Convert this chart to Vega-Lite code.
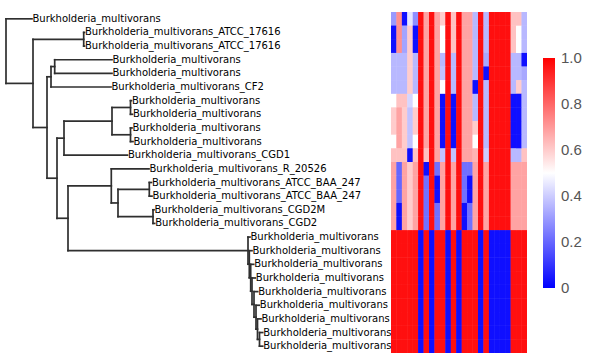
{
"$schema": "https://vega.github.io/schema/vega-lite/v6.json",
"padding": {"left": 4, "top": 12, "right": 0, "bottom": 0},
"background": "white",
"bounds": "flush",
"spacing": 0,
"config": {"view": {"stroke": null}},
"datasets": {
"seg": [
{"x":0,"x2":0,"y":1,"y2":5.734},{"x":0,"x2":26,"y":1,"y2":1},{"x":0,"x2":27,"y":5.734,"y2":5.734},
{"x":27,"x2":27,"y":2.5,"y2":8.968},{"x":27,"x2":77.7,"y":2.5,"y2":2.5},{"x":77.7,"x2":77.7,"y":2,"y2":3},
{"x":77.7,"x2":78.5,"y":2,"y2":2},{"x":77.7,"x2":78.5,"y":3,"y2":3},{"x":27,"x2":41,"y":8.968,"y2":8.968},
{"x":41,"x2":41,"y":5.25,"y2":12.686},{"x":41,"x2":45,"y":5.25,"y2":5.25},{"x":45,"x2":45,"y":4.5,"y2":6},
{"x":45,"x2":48.7,"y":4.5,"y2":4.5},{"x":48.7,"x2":48.7,"y":4,"y2":5},{"x":48.7,"x2":106,"y":4,"y2":4},
{"x":48.7,"x2":106,"y":5,"y2":5},{"x":45,"x2":105,"y":6,"y2":6},{"x":41,"x2":51,"y":12.686,"y2":12.686},
{"x":51,"x2":51,"y":9.75,"y2":15.623},{"x":51,"x2":58,"y":9.75,"y2":9.75},{"x":58,"x2":58,"y":8.5,"y2":11},
{"x":58,"x2":106,"y":8.5,"y2":8.5},{"x":106,"x2":106,"y":7.5,"y2":9.5},{"x":106,"x2":124.5,"y":7.5,"y2":7.5},
{"x":124.5,"x2":124.5,"y":7,"y2":8},{"x":124.5,"x2":125.5,"y":7,"y2":7},{"x":124.5,"x2":126.5,"y":8,"y2":8},
{"x":106,"x2":124.5,"y":9.5,"y2":9.5},{"x":124.5,"x2":124.5,"y":9,"y2":10},{"x":124.5,"x2":126,"y":9,"y2":9},
{"x":124.5,"x2":127,"y":10,"y2":10},{"x":58,"x2":121.5,"y":11,"y2":11},{"x":51,"x2":62,"y":15.623,"y2":15.623},
{"x":62,"x2":62,"y":13.25,"y2":17.996},{"x":62,"x2":105.3,"y":13.25,"y2":13.25},{"x":105.3,"x2":105.3,"y":12,"y2":14.5},
{"x":105.3,"x2":143,"y":12,"y2":12},{"x":105.3,"x2":112,"y":14.5,"y2":14.5},{"x":112,"x2":112,"y":13.5,"y2":15.5},
{"x":112,"x2":143.3,"y":13.5,"y2":13.5},{"x":143.3,"x2":143.3,"y":13,"y2":14},{"x":143.3,"x2":145.5,"y":13,"y2":13},
{"x":143.3,"x2":146,"y":14,"y2":14},{"x":112,"x2":147,"y":15.5,"y2":15.5},{"x":147,"x2":147,"y":15,"y2":16},
{"x":147,"x2":148,"y":15,"y2":15},{"x":147,"x2":148.7,"y":16,"y2":16},{"x":62,"x2":242,"y":17.996,"y2":17.996},
{"x":242,"x2":242,"y":17,"y2":18.992},{"x":242,"x2":244,"y":17,"y2":17},{"x":242,"x2":243.3,"y":18.992,"y2":18.992},
{"x":243.3,"x2":243.3,"y":18,"y2":19.984},{"x":243.3,"x2":246,"y":18,"y2":18},{"x":243.3,"x2":244.7,"y":19.984,"y2":19.984},
{"x":244.7,"x2":244.7,"y":19,"y2":20.969},{"x":244.7,"x2":247.7,"y":19,"y2":19},{"x":244.7,"x2":246,"y":20.969,"y2":20.969},
{"x":246,"x2":246,"y":20,"y2":21.938},{"x":246,"x2":249.3,"y":20,"y2":20},{"x":246,"x2":248,"y":21.938,"y2":21.938},
{"x":248,"x2":248,"y":21,"y2":22.875},{"x":248,"x2":251.7,"y":21,"y2":21},{"x":248,"x2":250,"y":22.875,"y2":22.875},
{"x":250,"x2":250,"y":22,"y2":23.75},{"x":250,"x2":253.3,"y":22,"y2":22},{"x":250,"x2":251.5,"y":23.75,"y2":23.75},
{"x":251.5,"x2":251.5,"y":23,"y2":24.5},{"x":251.5,"x2":255,"y":23,"y2":23},{"x":251.5,"x2":253.5,"y":24.5,"y2":24.5},
{"x":253.5,"x2":253.5,"y":24,"y2":25},{"x":253.5,"x2":256.7,"y":24,"y2":24},{"x":253.5,"x2":256.7,"y":25,"y2":25}
],
"tips": [
{"y":1,"x":26,"name":"Burkholderia_multivorans"},
{"y":2,"x":78.5,"name":"Burkholderia_multivorans_ATCC_17616"},
{"y":3,"x":78.5,"name":"Burkholderia_multivorans_ATCC_17616"},
{"y":4,"x":106,"name":"Burkholderia_multivorans"},
{"y":5,"x":106,"name":"Burkholderia_multivorans"},
{"y":6,"x":105,"name":"Burkholderia_multivorans_CF2"},
{"y":7,"x":125.5,"name":"Burkholderia_multivorans"},
{"y":8,"x":126.5,"name":"Burkholderia_multivorans"},
{"y":9,"x":126,"name":"Burkholderia_multivorans"},
{"y":10,"x":127,"name":"Burkholderia_multivorans"},
{"y":11,"x":121.5,"name":"Burkholderia_multivorans_CGD1"},
{"y":12,"x":143,"name":"Burkholderia_multivorans_R_20526"},
{"y":13,"x":145.5,"name":"Burkholderia_multivorans_ATCC_BAA_247"},
{"y":14,"x":146,"name":"Burkholderia_multivorans_ATCC_BAA_247"},
{"y":15,"x":148,"name":"Burkholderia_multivorans_CGD2M"},
{"y":16,"x":148.7,"name":"Burkholderia_multivorans_CGD2"},
{"y":17,"x":244,"name":"Burkholderia_multivorans"},
{"y":18,"x":246,"name":"Burkholderia_multivorans"},
{"y":19,"x":247.7,"name":"Burkholderia_multivorans"},
{"y":20,"x":249.3,"name":"Burkholderia_multivorans"},
{"y":21,"x":251.7,"name":"Burkholderia_multivorans"},
{"y":22,"x":253.3,"name":"Burkholderia_multivorans"},
{"y":23,"x":255,"name":"Burkholderia_multivorans"},
{"y":24,"x":256.7,"name":"Burkholderia_multivorans"},
{"y":25,"x":256.7,"name":"Burkholderia_multivorans"}
],
"cells": [
{"r":1,"c":1,"v":0.3},{"r":1,"c":2,"v":0.72},{"r":1,"c":3,"v":0.03},{"r":1,"c":4,"v":0.45},{"r":1,"c":5,"v":0.28},{"r":1,"c":6,"v":0.97},{"r":1,"c":7,"v":0.68},{"r":1,"c":8,"v":0.97},{"r":1,"c":9,"v":0.68},{"r":1,"c":10,"v":0.6},{"r":1,"c":11,"v":0.97},{"r":1,"c":12,"v":0.62},{"r":1,"c":13,"v":0.97},{"r":1,"c":14,"v":0.68},{"r":1,"c":15,"v":0.68},{"r":1,"c":16,"v":0.36},{"r":1,"c":17,"v":0.97},{"r":1,"c":18,"v":0.36},{"r":1,"c":19,"v":0.97},{"r":1,"c":20,"v":0.97},{"r":1,"c":21,"v":0.97},{"r":1,"c":22,"v":0.97},{"r":1,"c":23,"v":0.62},{"r":1,"c":24,"v":0.62},{"r":1,"c":25,"v":0.36},
{"r":2,"c":1,"v":0.03},{"r":2,"c":2,"v":0.72},{"r":2,"c":3,"v":0.32},{"r":2,"c":4,"v":0.6},{"r":2,"c":5,"v":0.03},{"r":2,"c":6,"v":0.97},{"r":2,"c":7,"v":0.68},{"r":2,"c":8,"v":0.97},{"r":2,"c":9,"v":0.68},{"r":2,"c":10,"v":0.5},{"r":2,"c":11,"v":0.97},{"r":2,"c":12,"v":0.62},{"r":2,"c":13,"v":0.97},{"r":2,"c":14,"v":0.68},{"r":2,"c":15,"v":0.68},{"r":2,"c":16,"v":0.36},{"r":2,"c":17,"v":0.97},{"r":2,"c":18,"v":0.36},{"r":2,"c":19,"v":0.97},{"r":2,"c":20,"v":0.97},{"r":2,"c":21,"v":0.97},{"r":2,"c":22,"v":0.97},{"r":2,"c":23,"v":0.62},{"r":2,"c":24,"v":0.5},{"r":2,"c":25,"v":0.36},
{"r":3,"c":1,"v":0.03},{"r":3,"c":2,"v":0.72},{"r":3,"c":3,"v":0.32},{"r":3,"c":4,"v":0.6},{"r":3,"c":5,"v":0.03},{"r":3,"c":6,"v":0.97},{"r":3,"c":7,"v":0.68},{"r":3,"c":8,"v":0.97},{"r":3,"c":9,"v":0.68},{"r":3,"c":10,"v":0.5},{"r":3,"c":11,"v":0.97},{"r":3,"c":12,"v":0.62},{"r":3,"c":13,"v":0.97},{"r":3,"c":14,"v":0.68},{"r":3,"c":15,"v":0.68},{"r":3,"c":16,"v":0.36},{"r":3,"c":17,"v":0.97},{"r":3,"c":18,"v":0.36},{"r":3,"c":19,"v":0.97},{"r":3,"c":20,"v":0.97},{"r":3,"c":21,"v":0.97},{"r":3,"c":22,"v":0.97},{"r":3,"c":23,"v":0.62},{"r":3,"c":24,"v":0.5},{"r":3,"c":25,"v":0.36},
{"r":4,"c":1,"v":0.36},{"r":4,"c":2,"v":0.36},{"r":4,"c":3,"v":0.36},{"r":4,"c":4,"v":0.6},{"r":4,"c":5,"v":0.36},{"r":4,"c":6,"v":0.97},{"r":4,"c":7,"v":0.68},{"r":4,"c":8,"v":0.97},{"r":4,"c":9,"v":0.68},{"r":4,"c":10,"v":0.36},{"r":4,"c":11,"v":0.97},{"r":4,"c":12,"v":0.36},{"r":4,"c":13,"v":0.97},{"r":4,"c":14,"v":0.68},{"r":4,"c":15,"v":0.68},{"r":4,"c":16,"v":0.36},{"r":4,"c":17,"v":0.97},{"r":4,"c":18,"v":0.33},{"r":4,"c":19,"v":0.97},{"r":4,"c":20,"v":0.97},{"r":4,"c":21,"v":0.97},{"r":4,"c":22,"v":0.97},{"r":4,"c":23,"v":0.36},{"r":4,"c":24,"v":0.36},{"r":4,"c":25,"v":0.03},
{"r":5,"c":1,"v":0.36},{"r":5,"c":2,"v":0.36},{"r":5,"c":3,"v":0.36},{"r":5,"c":4,"v":0.6},{"r":5,"c":5,"v":0.36},{"r":5,"c":6,"v":0.97},{"r":5,"c":7,"v":0.68},{"r":5,"c":8,"v":0.97},{"r":5,"c":9,"v":0.68},{"r":5,"c":10,"v":0.38},{"r":5,"c":11,"v":0.97},{"r":5,"c":12,"v":0.36},{"r":5,"c":13,"v":0.97},{"r":5,"c":14,"v":0.68},{"r":5,"c":15,"v":0.68},{"r":5,"c":16,"v":0.36},{"r":5,"c":17,"v":0.97},{"r":5,"c":18,"v":0.03},{"r":5,"c":19,"v":0.97},{"r":5,"c":20,"v":0.97},{"r":5,"c":21,"v":0.97},{"r":5,"c":22,"v":0.97},{"r":5,"c":23,"v":0.36},{"r":5,"c":24,"v":0.36},{"r":5,"c":25,"v":0.33},
{"r":6,"c":1,"v":0.36},{"r":6,"c":2,"v":0.36},{"r":6,"c":3,"v":0.36},{"r":6,"c":4,"v":0.6},{"r":6,"c":5,"v":0.36},{"r":6,"c":6,"v":0.97},{"r":6,"c":7,"v":0.68},{"r":6,"c":8,"v":0.97},{"r":6,"c":9,"v":0.68},{"r":6,"c":10,"v":0.5},{"r":6,"c":11,"v":0.97},{"r":6,"c":12,"v":0.36},{"r":6,"c":13,"v":0.97},{"r":6,"c":14,"v":0.68},{"r":6,"c":15,"v":0.68},{"r":6,"c":16,"v":0.03},{"r":6,"c":17,"v":0.97},{"r":6,"c":18,"v":0.36},{"r":6,"c":19,"v":0.97},{"r":6,"c":20,"v":0.97},{"r":6,"c":21,"v":0.97},{"r":6,"c":22,"v":0.97},{"r":6,"c":23,"v":0.36},{"r":6,"c":24,"v":0.6},{"r":6,"c":25,"v":0.36},
{"r":7,"c":1,"v":0.5},{"r":7,"c":2,"v":0.62},{"r":7,"c":3,"v":0.62},{"r":7,"c":4,"v":0.42},{"r":7,"c":5,"v":0.5},{"r":7,"c":6,"v":0.97},{"r":7,"c":7,"v":0.68},{"r":7,"c":8,"v":0.97},{"r":7,"c":9,"v":0.68},{"r":7,"c":10,"v":0.03},{"r":7,"c":11,"v":0.97},{"r":7,"c":12,"v":0.03},{"r":7,"c":13,"v":0.97},{"r":7,"c":14,"v":0.68},{"r":7,"c":15,"v":0.68},{"r":7,"c":16,"v":0.36},{"r":7,"c":17,"v":0.97},{"r":7,"c":18,"v":0.36},{"r":7,"c":19,"v":0.97},{"r":7,"c":20,"v":0.97},{"r":7,"c":21,"v":0.97},{"r":7,"c":22,"v":0.97},{"r":7,"c":23,"v":0.03},{"r":7,"c":24,"v":0.03},{"r":7,"c":25,"v":0.36},
{"r":8,"c":1,"v":0.6},{"r":8,"c":2,"v":0.68},{"r":8,"c":3,"v":0.6},{"r":8,"c":4,"v":0.38},{"r":8,"c":5,"v":0.6},{"r":8,"c":6,"v":0.97},{"r":8,"c":7,"v":0.68},{"r":8,"c":8,"v":0.97},{"r":8,"c":9,"v":0.68},{"r":8,"c":10,"v":0.03},{"r":8,"c":11,"v":0.97},{"r":8,"c":12,"v":0.03},{"r":8,"c":13,"v":0.97},{"r":8,"c":14,"v":0.68},{"r":8,"c":15,"v":0.68},{"r":8,"c":16,"v":0.36},{"r":8,"c":17,"v":0.97},{"r":8,"c":18,"v":0.36},{"r":8,"c":19,"v":0.97},{"r":8,"c":20,"v":0.97},{"r":8,"c":21,"v":0.97},{"r":8,"c":22,"v":0.97},{"r":8,"c":23,"v":0.03},{"r":8,"c":24,"v":0.03},{"r":8,"c":25,"v":0.36},
{"r":9,"c":1,"v":0.6},{"r":9,"c":2,"v":0.68},{"r":9,"c":3,"v":0.6},{"r":9,"c":4,"v":0.38},{"r":9,"c":5,"v":0.6},{"r":9,"c":6,"v":0.97},{"r":9,"c":7,"v":0.68},{"r":9,"c":8,"v":0.97},{"r":9,"c":9,"v":0.68},{"r":9,"c":10,"v":0.03},{"r":9,"c":11,"v":0.97},{"r":9,"c":12,"v":0.03},{"r":9,"c":13,"v":0.97},{"r":9,"c":14,"v":0.68},{"r":9,"c":15,"v":0.68},{"r":9,"c":16,"v":0.6},{"r":9,"c":17,"v":0.97},{"r":9,"c":18,"v":0.36},{"r":9,"c":19,"v":0.97},{"r":9,"c":20,"v":0.97},{"r":9,"c":21,"v":0.97},{"r":9,"c":22,"v":0.97},{"r":9,"c":23,"v":0.03},{"r":9,"c":24,"v":0.03},{"r":9,"c":25,"v":0.36},
{"r":10,"c":1,"v":0.5},{"r":10,"c":2,"v":0.68},{"r":10,"c":3,"v":0.6},{"r":10,"c":4,"v":0.38},{"r":10,"c":5,"v":0.5},{"r":10,"c":6,"v":0.97},{"r":10,"c":7,"v":0.68},{"r":10,"c":8,"v":0.97},{"r":10,"c":9,"v":0.68},{"r":10,"c":10,"v":0.03},{"r":10,"c":11,"v":0.97},{"r":10,"c":12,"v":0.03},{"r":10,"c":13,"v":0.97},{"r":10,"c":14,"v":0.68},{"r":10,"c":15,"v":0.68},{"r":10,"c":16,"v":0.5},{"r":10,"c":17,"v":0.97},{"r":10,"c":18,"v":0.36},{"r":10,"c":19,"v":0.97},{"r":10,"c":20,"v":0.97},{"r":10,"c":21,"v":0.97},{"r":10,"c":22,"v":0.97},{"r":10,"c":23,"v":0.03},{"r":10,"c":24,"v":0.03},{"r":10,"c":25,"v":0.36},
{"r":11,"c":1,"v":0.62},{"r":11,"c":2,"v":0.62},{"r":11,"c":3,"v":0.62},{"r":11,"c":4,"v":0.03},{"r":11,"c":5,"v":0.62},{"r":11,"c":6,"v":0.97},{"r":11,"c":7,"v":0.62},{"r":11,"c":8,"v":0.97},{"r":11,"c":9,"v":0.68},{"r":11,"c":10,"v":0.38},{"r":11,"c":11,"v":0.97},{"r":11,"c":12,"v":0.38},{"r":11,"c":13,"v":0.97},{"r":11,"c":14,"v":0.68},{"r":11,"c":15,"v":0.68},{"r":11,"c":16,"v":0.65},{"r":11,"c":17,"v":0.97},{"r":11,"c":18,"v":0.4},{"r":11,"c":19,"v":0.97},{"r":11,"c":20,"v":0.97},{"r":11,"c":21,"v":0.97},{"r":11,"c":22,"v":0.97},{"r":11,"c":23,"v":0.36},{"r":11,"c":24,"v":0.36},{"r":11,"c":25,"v":0.62},
{"r":12,"c":1,"v":0.68},{"r":12,"c":2,"v":0.2},{"r":12,"c":3,"v":0.68},{"r":12,"c":4,"v":0.6},{"r":12,"c":5,"v":0.68},{"r":12,"c":6,"v":0.97},{"r":12,"c":7,"v":0.03},{"r":12,"c":8,"v":0.97},{"r":12,"c":9,"v":0.22},{"r":12,"c":10,"v":0.68},{"r":12,"c":11,"v":0.97},{"r":12,"c":12,"v":0.68},{"r":12,"c":13,"v":0.97},{"r":12,"c":14,"v":0.22},{"r":12,"c":15,"v":0.22},{"r":12,"c":16,"v":0.68},{"r":12,"c":17,"v":0.97},{"r":12,"c":18,"v":0.68},{"r":12,"c":19,"v":0.97},{"r":12,"c":20,"v":0.97},{"r":12,"c":21,"v":0.97},{"r":12,"c":22,"v":0.97},{"r":12,"c":23,"v":0.68},{"r":12,"c":24,"v":0.68},{"r":12,"c":25,"v":0.68},
{"r":13,"c":1,"v":0.68},{"r":13,"c":2,"v":0.2},{"r":13,"c":3,"v":0.68},{"r":13,"c":4,"v":0.6},{"r":13,"c":5,"v":0.68},{"r":13,"c":6,"v":0.97},{"r":13,"c":7,"v":0.22},{"r":13,"c":8,"v":0.97},{"r":13,"c":9,"v":0.03},{"r":13,"c":10,"v":0.68},{"r":13,"c":11,"v":0.97},{"r":13,"c":12,"v":0.68},{"r":13,"c":13,"v":0.97},{"r":13,"c":14,"v":0.22},{"r":13,"c":15,"v":0.03},{"r":13,"c":16,"v":0.68},{"r":13,"c":17,"v":0.97},{"r":13,"c":18,"v":0.68},{"r":13,"c":19,"v":0.97},{"r":13,"c":20,"v":0.97},{"r":13,"c":21,"v":0.97},{"r":13,"c":22,"v":0.97},{"r":13,"c":23,"v":0.68},{"r":13,"c":24,"v":0.68},{"r":13,"c":25,"v":0.68},
{"r":14,"c":1,"v":0.68},{"r":14,"c":2,"v":0.2},{"r":14,"c":3,"v":0.68},{"r":14,"c":4,"v":0.6},{"r":14,"c":5,"v":0.68},{"r":14,"c":6,"v":0.97},{"r":14,"c":7,"v":0.22},{"r":14,"c":8,"v":0.97},{"r":14,"c":9,"v":0.03},{"r":14,"c":10,"v":0.68},{"r":14,"c":11,"v":0.97},{"r":14,"c":12,"v":0.68},{"r":14,"c":13,"v":0.97},{"r":14,"c":14,"v":0.22},{"r":14,"c":15,"v":0.03},{"r":14,"c":16,"v":0.68},{"r":14,"c":17,"v":0.97},{"r":14,"c":18,"v":0.68},{"r":14,"c":19,"v":0.97},{"r":14,"c":20,"v":0.97},{"r":14,"c":21,"v":0.97},{"r":14,"c":22,"v":0.97},{"r":14,"c":23,"v":0.68},{"r":14,"c":24,"v":0.68},{"r":14,"c":25,"v":0.68},
{"r":15,"c":1,"v":0.68},{"r":15,"c":2,"v":0.03},{"r":15,"c":3,"v":0.68},{"r":15,"c":4,"v":0.6},{"r":15,"c":5,"v":0.68},{"r":15,"c":6,"v":0.97},{"r":15,"c":7,"v":0.22},{"r":15,"c":8,"v":0.97},{"r":15,"c":9,"v":0.22},{"r":15,"c":10,"v":0.68},{"r":15,"c":11,"v":0.97},{"r":15,"c":12,"v":0.68},{"r":15,"c":13,"v":0.97},{"r":15,"c":14,"v":0.03},{"r":15,"c":15,"v":0.22},{"r":15,"c":16,"v":0.68},{"r":15,"c":17,"v":0.97},{"r":15,"c":18,"v":0.68},{"r":15,"c":19,"v":0.97},{"r":15,"c":20,"v":0.97},{"r":15,"c":21,"v":0.97},{"r":15,"c":22,"v":0.97},{"r":15,"c":23,"v":0.68},{"r":15,"c":24,"v":0.68},{"r":15,"c":25,"v":0.68},
{"r":16,"c":1,"v":0.68},{"r":16,"c":2,"v":0.03},{"r":16,"c":3,"v":0.68},{"r":16,"c":4,"v":0.6},{"r":16,"c":5,"v":0.68},{"r":16,"c":6,"v":0.97},{"r":16,"c":7,"v":0.22},{"r":16,"c":8,"v":0.97},{"r":16,"c":9,"v":0.22},{"r":16,"c":10,"v":0.68},{"r":16,"c":11,"v":0.97},{"r":16,"c":12,"v":0.68},{"r":16,"c":13,"v":0.97},{"r":16,"c":14,"v":0.03},{"r":16,"c":15,"v":0.22},{"r":16,"c":16,"v":0.68},{"r":16,"c":17,"v":0.97},{"r":16,"c":18,"v":0.68},{"r":16,"c":19,"v":0.97},{"r":16,"c":20,"v":0.97},{"r":16,"c":21,"v":0.97},{"r":16,"c":22,"v":0.97},{"r":16,"c":23,"v":0.68},{"r":16,"c":24,"v":0.68},{"r":16,"c":25,"v":0.68},
{"r":17,"c":1,"v":0.97},{"r":17,"c":2,"v":0.97},{"r":17,"c":3,"v":0.97},{"r":17,"c":4,"v":0.97},{"r":17,"c":5,"v":0.97},{"r":17,"c":6,"v":0.03},{"r":17,"c":7,"v":0.97},{"r":17,"c":8,"v":0.03},{"r":17,"c":9,"v":0.97},{"r":17,"c":10,"v":0.97},{"r":17,"c":11,"v":0.03},{"r":17,"c":12,"v":0.97},{"r":17,"c":13,"v":0.03},{"r":17,"c":14,"v":0.97},{"r":17,"c":15,"v":0.97},{"r":17,"c":16,"v":0.97},{"r":17,"c":17,"v":0.03},{"r":17,"c":18,"v":0.97},{"r":17,"c":19,"v":0.03},{"r":17,"c":20,"v":0.03},{"r":17,"c":21,"v":0.03},{"r":17,"c":22,"v":0.03},{"r":17,"c":23,"v":0.97},{"r":17,"c":24,"v":0.97},{"r":17,"c":25,"v":0.97},
{"r":18,"c":1,"v":0.97},{"r":18,"c":2,"v":0.97},{"r":18,"c":3,"v":0.97},{"r":18,"c":4,"v":0.97},{"r":18,"c":5,"v":0.97},{"r":18,"c":6,"v":0.03},{"r":18,"c":7,"v":0.97},{"r":18,"c":8,"v":0.03},{"r":18,"c":9,"v":0.97},{"r":18,"c":10,"v":0.97},{"r":18,"c":11,"v":0.03},{"r":18,"c":12,"v":0.97},{"r":18,"c":13,"v":0.03},{"r":18,"c":14,"v":0.97},{"r":18,"c":15,"v":0.97},{"r":18,"c":16,"v":0.97},{"r":18,"c":17,"v":0.03},{"r":18,"c":18,"v":0.97},{"r":18,"c":19,"v":0.03},{"r":18,"c":20,"v":0.03},{"r":18,"c":21,"v":0.03},{"r":18,"c":22,"v":0.03},{"r":18,"c":23,"v":0.97},{"r":18,"c":24,"v":0.97},{"r":18,"c":25,"v":0.97},
{"r":19,"c":1,"v":0.97},{"r":19,"c":2,"v":0.97},{"r":19,"c":3,"v":0.97},{"r":19,"c":4,"v":0.97},{"r":19,"c":5,"v":0.97},{"r":19,"c":6,"v":0.03},{"r":19,"c":7,"v":0.97},{"r":19,"c":8,"v":0.03},{"r":19,"c":9,"v":0.97},{"r":19,"c":10,"v":0.97},{"r":19,"c":11,"v":0.03},{"r":19,"c":12,"v":0.97},{"r":19,"c":13,"v":0.03},{"r":19,"c":14,"v":0.97},{"r":19,"c":15,"v":0.97},{"r":19,"c":16,"v":0.97},{"r":19,"c":17,"v":0.03},{"r":19,"c":18,"v":0.97},{"r":19,"c":19,"v":0.03},{"r":19,"c":20,"v":0.03},{"r":19,"c":21,"v":0.03},{"r":19,"c":22,"v":0.03},{"r":19,"c":23,"v":0.97},{"r":19,"c":24,"v":0.97},{"r":19,"c":25,"v":0.97},
{"r":20,"c":1,"v":0.97},{"r":20,"c":2,"v":0.97},{"r":20,"c":3,"v":0.97},{"r":20,"c":4,"v":0.97},{"r":20,"c":5,"v":0.97},{"r":20,"c":6,"v":0.03},{"r":20,"c":7,"v":0.97},{"r":20,"c":8,"v":0.03},{"r":20,"c":9,"v":0.97},{"r":20,"c":10,"v":0.97},{"r":20,"c":11,"v":0.03},{"r":20,"c":12,"v":0.97},{"r":20,"c":13,"v":0.03},{"r":20,"c":14,"v":0.97},{"r":20,"c":15,"v":0.97},{"r":20,"c":16,"v":0.97},{"r":20,"c":17,"v":0.03},{"r":20,"c":18,"v":0.97},{"r":20,"c":19,"v":0.03},{"r":20,"c":20,"v":0.03},{"r":20,"c":21,"v":0.03},{"r":20,"c":22,"v":0.03},{"r":20,"c":23,"v":0.97},{"r":20,"c":24,"v":0.97},{"r":20,"c":25,"v":0.97},
{"r":21,"c":1,"v":0.97},{"r":21,"c":2,"v":0.97},{"r":21,"c":3,"v":0.97},{"r":21,"c":4,"v":0.97},{"r":21,"c":5,"v":0.97},{"r":21,"c":6,"v":0.03},{"r":21,"c":7,"v":0.97},{"r":21,"c":8,"v":0.03},{"r":21,"c":9,"v":0.97},{"r":21,"c":10,"v":0.97},{"r":21,"c":11,"v":0.03},{"r":21,"c":12,"v":0.97},{"r":21,"c":13,"v":0.03},{"r":21,"c":14,"v":0.97},{"r":21,"c":15,"v":0.97},{"r":21,"c":16,"v":0.97},{"r":21,"c":17,"v":0.03},{"r":21,"c":18,"v":0.97},{"r":21,"c":19,"v":0.03},{"r":21,"c":20,"v":0.03},{"r":21,"c":21,"v":0.03},{"r":21,"c":22,"v":0.03},{"r":21,"c":23,"v":0.97},{"r":21,"c":24,"v":0.97},{"r":21,"c":25,"v":0.97},
{"r":22,"c":1,"v":0.97},{"r":22,"c":2,"v":0.97},{"r":22,"c":3,"v":0.97},{"r":22,"c":4,"v":0.97},{"r":22,"c":5,"v":0.97},{"r":22,"c":6,"v":0.03},{"r":22,"c":7,"v":0.97},{"r":22,"c":8,"v":0.03},{"r":22,"c":9,"v":0.97},{"r":22,"c":10,"v":0.97},{"r":22,"c":11,"v":0.03},{"r":22,"c":12,"v":0.97},{"r":22,"c":13,"v":0.03},{"r":22,"c":14,"v":0.97},{"r":22,"c":15,"v":0.97},{"r":22,"c":16,"v":0.97},{"r":22,"c":17,"v":0.03},{"r":22,"c":18,"v":0.97},{"r":22,"c":19,"v":0.03},{"r":22,"c":20,"v":0.03},{"r":22,"c":21,"v":0.03},{"r":22,"c":22,"v":0.03},{"r":22,"c":23,"v":0.97},{"r":22,"c":24,"v":0.97},{"r":22,"c":25,"v":0.97},
{"r":23,"c":1,"v":0.97},{"r":23,"c":2,"v":0.97},{"r":23,"c":3,"v":0.97},{"r":23,"c":4,"v":0.97},{"r":23,"c":5,"v":0.97},{"r":23,"c":6,"v":0.03},{"r":23,"c":7,"v":0.97},{"r":23,"c":8,"v":0.03},{"r":23,"c":9,"v":0.97},{"r":23,"c":10,"v":0.97},{"r":23,"c":11,"v":0.03},{"r":23,"c":12,"v":0.97},{"r":23,"c":13,"v":0.03},{"r":23,"c":14,"v":0.97},{"r":23,"c":15,"v":0.97},{"r":23,"c":16,"v":0.97},{"r":23,"c":17,"v":0.03},{"r":23,"c":18,"v":0.97},{"r":23,"c":19,"v":0.03},{"r":23,"c":20,"v":0.03},{"r":23,"c":21,"v":0.03},{"r":23,"c":22,"v":0.03},{"r":23,"c":23,"v":0.97},{"r":23,"c":24,"v":0.97},{"r":23,"c":25,"v":0.97},
{"r":24,"c":1,"v":0.97},{"r":24,"c":2,"v":0.97},{"r":24,"c":3,"v":0.97},{"r":24,"c":4,"v":0.97},{"r":24,"c":5,"v":0.97},{"r":24,"c":6,"v":0.03},{"r":24,"c":7,"v":0.97},{"r":24,"c":8,"v":0.03},{"r":24,"c":9,"v":0.97},{"r":24,"c":10,"v":0.97},{"r":24,"c":11,"v":0.03},{"r":24,"c":12,"v":0.97},{"r":24,"c":13,"v":0.03},{"r":24,"c":14,"v":0.97},{"r":24,"c":15,"v":0.97},{"r":24,"c":16,"v":0.97},{"r":24,"c":17,"v":0.03},{"r":24,"c":18,"v":0.97},{"r":24,"c":19,"v":0.03},{"r":24,"c":20,"v":0.03},{"r":24,"c":21,"v":0.03},{"r":24,"c":22,"v":0.03},{"r":24,"c":23,"v":0.97},{"r":24,"c":24,"v":0.97},{"r":24,"c":25,"v":0.97},
{"r":25,"c":1,"v":0.97},{"r":25,"c":2,"v":0.97},{"r":25,"c":3,"v":0.97},{"r":25,"c":4,"v":0.97},{"r":25,"c":5,"v":0.97},{"r":25,"c":6,"v":0.03},{"r":25,"c":7,"v":0.97},{"r":25,"c":8,"v":0.03},{"r":25,"c":9,"v":0.97},{"r":25,"c":10,"v":0.97},{"r":25,"c":11,"v":0.03},{"r":25,"c":12,"v":0.97},{"r":25,"c":13,"v":0.03},{"r":25,"c":14,"v":0.97},{"r":25,"c":15,"v":0.97},{"r":25,"c":16,"v":0.97},{"r":25,"c":17,"v":0.03},{"r":25,"c":18,"v":0.97},{"r":25,"c":19,"v":0.03},{"r":25,"c":20,"v":0.03},{"r":25,"c":21,"v":0.03},{"r":25,"c":22,"v":0.03},{"r":25,"c":23,"v":0.97},{"r":25,"c":24,"v":0.97},{"r":25,"c":25,"v":0.97}
]
},
"hconcat": [
{
"width": 385,
"height": 341,
"layer": [
{
"data": {"name": "seg"},
"mark": {"type": "rule", "color": "#2f2f2f", "strokeWidth": 1.7, "strokeCap": "square"},
"encoding": {
"x": {"field": "x", "type": "quantitative", "scale": {"domain": [0, 385], "nice": false, "zero": false}, "axis": null},
"x2": {"field": "x2"},
"y": {"field": "y", "type": "quantitative", "scale": {"domain": [0.5, 25.5], "nice": false, "zero": false, "reverse": true}, "axis": null},
"y2": {"field": "y2"}
}
},
{
"data": {"name": "tips"},
"mark": {"type": "text", "align": "left", "baseline": "middle", "dx": 0.5, "font": "DejaVu Sans", "fontSize": 10, "color": "#000000"},
"encoding": {
"x": {"field": "x", "type": "quantitative", "scale": {"domain": [0, 385], "nice": false, "zero": false}, "axis": null},
"y": {"field": "y", "type": "quantitative", "scale": {"domain": [0.5, 25.5], "nice": false, "zero": false, "reverse": true}, "axis": null},
"text": {"field": "name", "type": "nominal"}
}
}
]
},
{
"width": 136,
"height": 341,
"data": {"name": "cells"},
"encoding": {
"x": {"field": "c", "type": "ordinal", "axis": null, "scale": {"paddingInner": 0, "paddingOuter": 0}},
"y": {"field": "r", "type": "ordinal", "axis": null, "scale": {"paddingInner": 0, "paddingOuter": 0}},
"color": {
"field": "v", "type": "quantitative",
"scale": {"domain": [0, 0.5, 1], "range": ["#0000ff", "#ffffff", "#ff0000"], "interpolate": "rgb"},
"legend": {
"orient": "none", "legendX": 537, "legendY": 46, "direction": "vertical",
"title": null, "gradientLength": 230, "gradientThickness": 12, "gradientStrokeWidth": 0,
"values": [0, 0.2, 0.4, 0.6, 0.8, 1],
"labelExpr": "datum.value == 0 ? '0' : format(datum.value, '.1f')",
"labelFont": "Liberation Sans", "labelFontSize": 15, "labelColor": "#555555", "labelOffset": 6,
"encode": {"labels": {"update": {"baseline": {"value": "middle"}}}}
}
}
},
"layer": [
{"mark": {"type": "rect"}},
{"mark": {"type": "rect"}}
]
}
]
}
